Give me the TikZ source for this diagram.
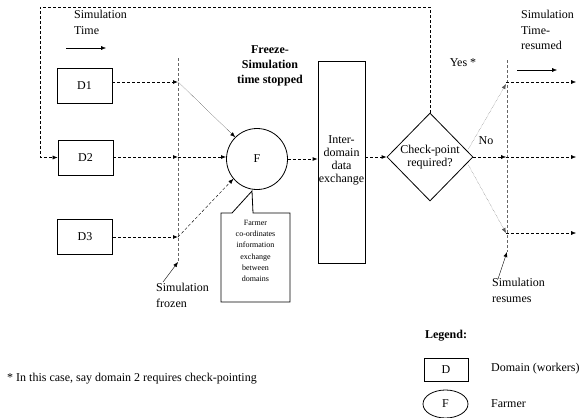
\documentclass[tikz,border=0pt]{standalone}
\usepackage{fontspec}
\setmainfont{Liberation Serif}
\usetikzlibrary{shapes.geometric,arrows.meta,calc}
\tikzset{
  dbox/.style={draw, thick, minimum width=55pt, minimum height=35pt, inner sep=0pt},
  con/.style={densely dashed, thick, -{Latex[length=5pt,width=4pt]}},
  fine/.style={densely dotted, -{Latex[length=5pt,width=4pt]}},
  vline/.style={densely dashed, gray!80!black},
  lbl/.style={inner sep=0pt, align=left, anchor=north west},
  solidarr/.style={-{Latex[length=5pt,width=4pt]}},
  small/.style={font=\fontsize{8}{11.3}\selectfont, align=center, inner sep=0pt}
}
\begin{document}
\begin{tikzpicture}[x=1pt,y=-1pt, font=\fontsize{12}{15.5}\selectfont]
\useasboundingbox (0,0) rectangle (579,418);

% domains
\node[dbox] (d1) at (84.5,85.5) {D1};
\node[dbox] (d2) at (85.5,157.5) {D2};
\node[dbox] (d3) at (85,236.5) {D3};

% simulation time label
\node[lbl] (st) at (74,10) {Simulation\\Time};
\coordinate (sta) at (66,48);
\coordinate (stb) at (106,48);
\draw[solidarr] (sta) -- (stb);

% frozen line
\coordinate (fzt) at (178,58);
\coordinate (fzb) at (178,262);
\draw[vline] (fzt) -- (fzb);
\coordinate (fz1) at (178,82);
\coordinate (fz2) at (178,157);
\coordinate (fz3) at (178,237);
\draw[con] (d1.east |- fz1) -- (fz1);
\draw[con] (d2.east |- fz2) -- (fz2);
\draw[con] (d3.east |- fz3) -- (fz3);

% farmer
\node[draw, thick, circle, minimum size=61pt, inner sep=0pt] (f) at (257,159) {F};
\draw[fine] (fz1) -- (f.135);
\draw[con] (fz2) -- (f.west |- fz2);
\draw[densely dashed, -{Latex[length=5pt,width=4pt]}] (fz3) -- (f.220);

% freeze label
\node[font=\fontsize{12}{15}\selectfont\bfseries, align=center, inner sep=0pt] (fr) at (270,66) {Freeze-\\Simulation\\time stopped};

% callout
\coordinate (ct) at (252,191);
\draw[thick] (221,213) -- (232,213) -- (ct) -- (253,213) -- (290,213) -- (290,302) -- (221,302) -- cycle;
\node[small] (ctext) at (255.5,251) {Farmer\\co-ordinates\\information\\exchange\\between\\domains};

% simulation frozen label
\node[lbl] (sfz) at (156,283) {Simulation\\frozen};
\draw[solidarr] (163,282) -- (fzb);

% inter-domain exchange
\node[draw, thick, minimum width=47pt, minimum height=202pt, inner sep=0pt] (ide) at (341.5,162) {};
\node[align=center, inner sep=0pt, font=\fontsize{12}{13}\selectfont] (idet) at (341.5,160) {Inter-\\domain\\data\\exchange};
\draw[con] (f.east) -- (ide.west |- f.east);

% decision
\node[draw, thick, diamond, minimum width=86pt, minimum height=88pt, inner sep=0pt, align=center, font=\fontsize{12}{13}\selectfont] (dia) at (430,157) {Check-point\\required?};
\draw[con] (ide.east |- dia.west) -- (dia.west);

% feedback loop
\coordinate (tl) at (40,7);
\draw[densely dashed, -{Latex[length=5pt,width=4pt]}] (dia.north) -- (dia.north |- tl) -- (tl) |- (d2.west);

\node[inner sep=0pt] (yes) at (463,63) {Yes *};
\node[inner sep=0pt] (no) at (486,141) {No};

% resume line
\coordinate (rst) at (507,60);
\coordinate (rsb) at (507,252);
\draw[vline] (rst) -- (rsb);
\coordinate (r1) at (506,84);
\coordinate (r2) at (506,157);
\coordinate (r3) at (506,233);
\draw[fine, gray!70!black] ($(dia.east)+(-5,-8)$) -- (r1);
\draw[con, thin] (dia.east) -- (r2);
\draw[fine, gray!70!black] ($(dia.east)+(-5,8)$) -- (r3);
\coordinate (o1) at (576,82);
\coordinate (o2) at (576,157);
\coordinate (o3) at (576,233);
\draw[con, thin] (r1 |- o1) -- (o1);
\draw[con, thin] (r2) -- (o2);
\draw[con, thin] (r3) -- (o3);

% time resumed label
\node[lbl] (str) at (521,10) {Simulation\\Time-\\resumed};
\coordinate (sra) at (517,70);
\coordinate (srb) at (557,70);
\draw[solidarr] (sra) -- (srb);

% resumes label
\node[lbl] (sres) at (492,278) {Simulation\\resumes};
\draw[solidarr] (498,279) -- (rsb);

% footnote
\node[inner sep=0pt, anchor=west] (fn) at (7,379) {* In this case, say domain 2 requires check-pointing};

% legend
\node[font=\fontsize{12}{15}\selectfont\bfseries, inner sep=0pt] (lg) at (446,336) {Legend:};
\node[draw, thick, minimum width=44pt, minimum height=23pt, inner sep=0pt] (ld) at (446,369.5) {D};
\node[draw, thick, ellipse, minimum width=45pt, minimum height=28pt, inner sep=0pt] (lf) at (445.5,404) {F};
\node[inner sep=0pt, anchor=west] (ldt) at (491,369) {Domain (workers)};
\node[inner sep=0pt, anchor=west] (lft) at (491,404) {Farmer};
\end{tikzpicture}
\end{document}
